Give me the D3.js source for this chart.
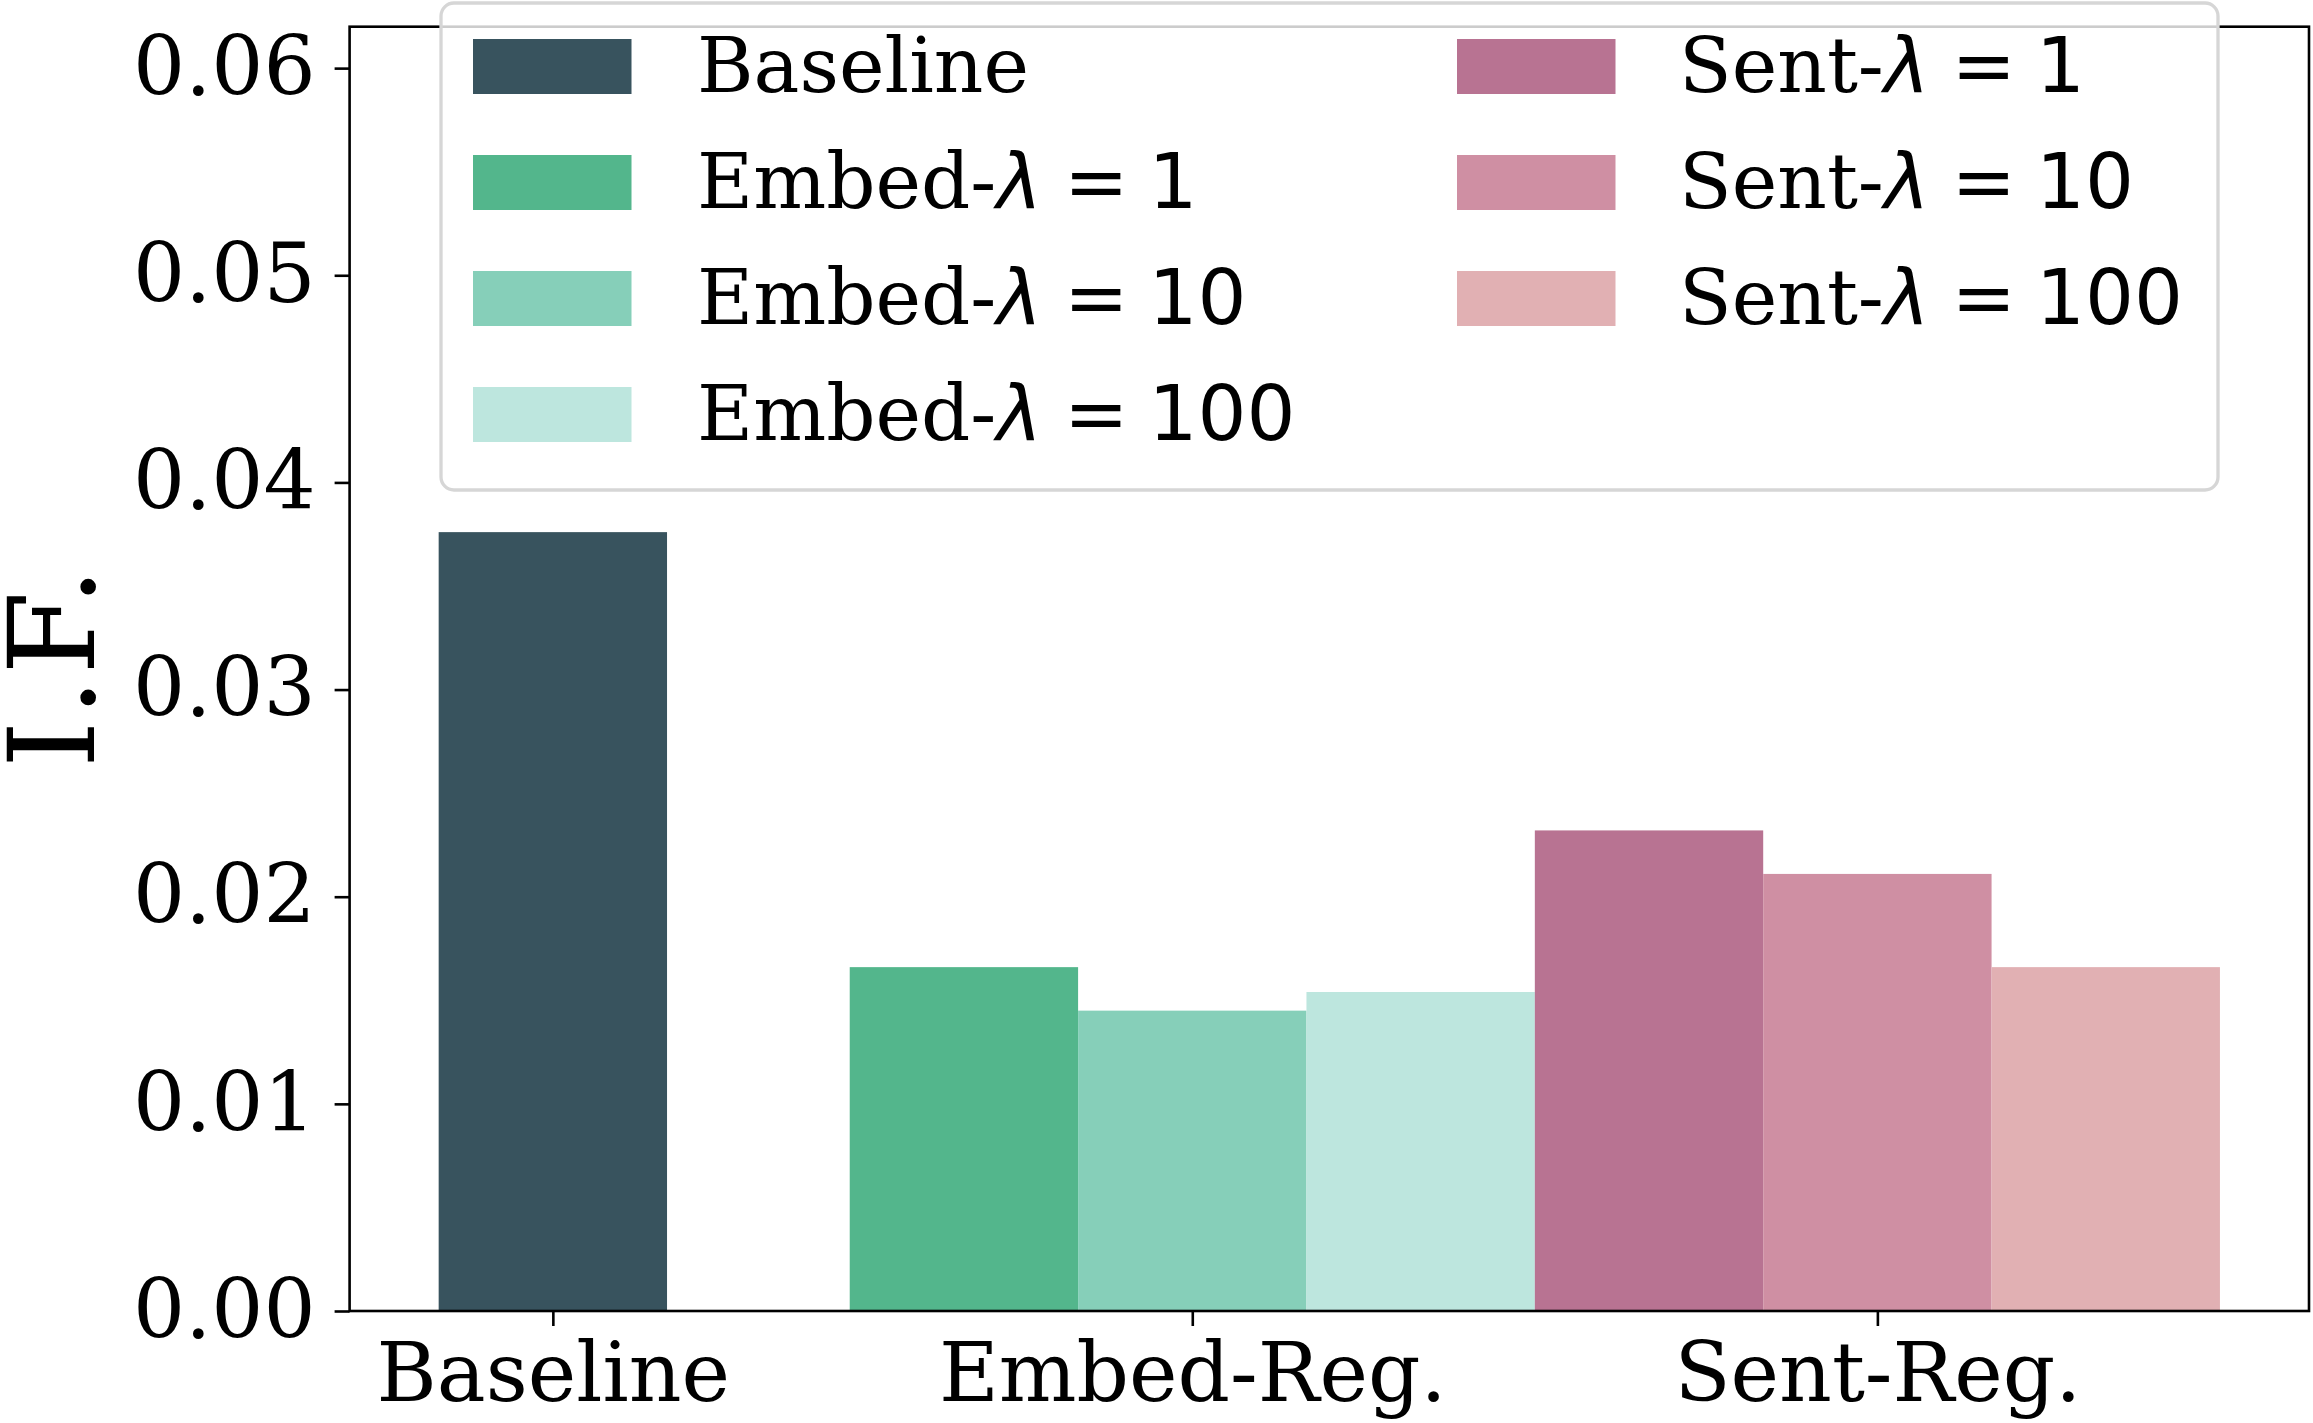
<!DOCTYPE html>
<html>
<head>
<meta charset="utf-8">
<script src="https://cdn.jsdelivr.net/npm/d3@7"></script>
<style>
	body { margin: 0; background: #fff; }
	svg { display: block; }
	.serif { font-family: "DejaVu Serif", serif; }
	.sans { font-family: "DejaVu Sans", sans-serif; }
</style>
</head>
<body>
<div id="chart"></div>
<script>
'use strict'
// data
var categories = ["Baseline", "Embed-Reg.", "Sent-Reg."];
var categoryPos = [0, 0.7, 1.45];
var seriesPrefix = ["Baseline", "Embed-", "Embed-", "Embed-", "Sent-", "Sent-", "Sent-"];
var seriesLambda = [null, 1, 10, 100, 1, 10, 100];
var seriesGroup = [0, 1, 1, 1, 2, 2, 2];
var seriesOffset = [0, -1, 0, 1, -1, 0, 1];
var seriesValues = [0.0376, 0.0166, 0.0145, 0.0154, 0.0232, 0.0211, 0.0166];
var seriesColors = ["#38535e", "#53b68c", "#86cfb9", "#bde6de", "#b87392", "#cf8fa3", "#e1b0b3"];
var yTicks = [0, 0.01, 0.02, 0.03, 0.04, 0.05, 0.06];
var yMax = 0.062;
var barWidth = 0.25;

var W = 2313, H = 1423;
var plot = {left: 349.6, top: 26.7, right: 2309, bottom: 1311};

var svg = d3.select("#chart").append("svg")
	.attr("width", W).attr("height", H);

// x extent like matplotlib autoscale (5% margin)
var lo = d3.min(seriesGroup, function(g, i){ return categoryPos[g] + seriesOffset[i]*barWidth - barWidth/2; });
var hi = d3.max(seriesGroup, function(g, i){ return categoryPos[g] + seriesOffset[i]*barWidth + barWidth/2; });
var pad = (hi - lo) * 0.05;
var x = d3.scaleLinear().domain([lo - pad, hi + pad]).range([plot.left, plot.right]);
var y = d3.scaleLinear().domain([0, yMax]).range([plot.bottom, plot.top]);

var bars = seriesValues.map(function(v, i){
	return {v: v, c: seriesColors[i], x0: categoryPos[seriesGroup[i]] + seriesOffset[i]*barWidth - barWidth/2};
});

svg.append("g").selectAll("rect")
	.data(bars)
	.enter().append("rect")
	.attr("x", function(d){ return x(d.x0); })
	.attr("width", function(d){ return x(d.x0 + barWidth) - x(d.x0); })
	.attr("y", function(d){ return y(d.v); })
	.attr("height", function(d){ return y(0) - y(d.v); })
	.attr("fill", function(d){ return d.c; });

// y axis
var yAxis = svg.append("g")
	.attr("transform", "translate(" + plot.left + ",0)")
	.call(d3.axisLeft(y).tickValues(yTicks).tickFormat(d3.format(".2f")).tickSize(15).tickPadding(19).tickSizeOuter(0));
// x axis
var xAxis = svg.append("g")
	.attr("transform", "translate(0," + plot.bottom + ")")
	.call(d3.axisBottom(x).tickValues(categoryPos).tickFormat(function(d, i){ return categories[i]; }).tickSize(15).tickPadding(17).tickSizeOuter(0));

[yAxis, xAxis].forEach(function(a){
	a.select(".domain").remove();
	a.selectAll(".tick line").attr("stroke", "#000").attr("stroke-width", 2.6);
	a.selectAll(".tick text")
		.attr("class", "serif")
		.attr("fill", "#000")
		.style("font-size", "82px");
});

// spines
svg.append("rect")
	.attr("x", plot.left).attr("y", plot.top)
	.attr("width", plot.right - plot.left).attr("height", plot.bottom - plot.top)
	.attr("fill", "none").attr("stroke", "#000").attr("stroke-width", 2.6);

// y label
svg.append("text")
	.attr("class", "serif")
	.attr("transform", "translate(94," + ((plot.top + plot.bottom)/2 - 3) + ") rotate(-90)")
	.attr("text-anchor", "middle")
	.attr("letter-spacing", 4)
	.style("font-size", "120px")
	.text("I.F.");

// legend
var legend = svg.append("g");
legend.append("rect")
	.attr("x", 441).attr("y", 3)
	.attr("width", 2218 - 441).attr("height", 490 - 3)
	.attr("rx", 13).attr("ry", 13)
	.attr("fill", "rgba(255,255,255,0.8)")
	.attr("stroke", "#d6d6d6").attr("stroke-width", 3.3);

var colSwatchX = [473, 1457];
var colTextX = [697, 1679];
var rowTop = 39, rowStep = 116, swH = 55, swW = 158.5;
var legFont = 77;

seriesPrefix.forEach(function(p, i){
	var col = i < 4 ? 0 : 1;
	var row = i < 4 ? i : i - 4;
	var top = rowTop + row * rowStep;
	legend.append("rect")
		.attr("x", colSwatchX[col]).attr("y", top)
		.attr("width", swW).attr("height", swH)
		.attr("fill", seriesColors[i]);
	var t = legend.append("text")
		.attr("x", colTextX[col])
		.attr("y", top + swH/2 + legFont*0.729/2 - 3)
		.style("font-size", legFont + "px");
	t.append("tspan").attr("class", "serif").text(p);
	if (seriesLambda[i] !== null) {
		t.append("tspan").attr("class", "sans").style("font-style", "italic").text("λ");
		t.append("tspan").attr("class", "sans").attr("dx", 22).text("=");
		t.append("tspan").attr("class", "sans").attr("dx", 20).text(String(seriesLambda[i]));
	}
});
</script>
</body>
</html>
